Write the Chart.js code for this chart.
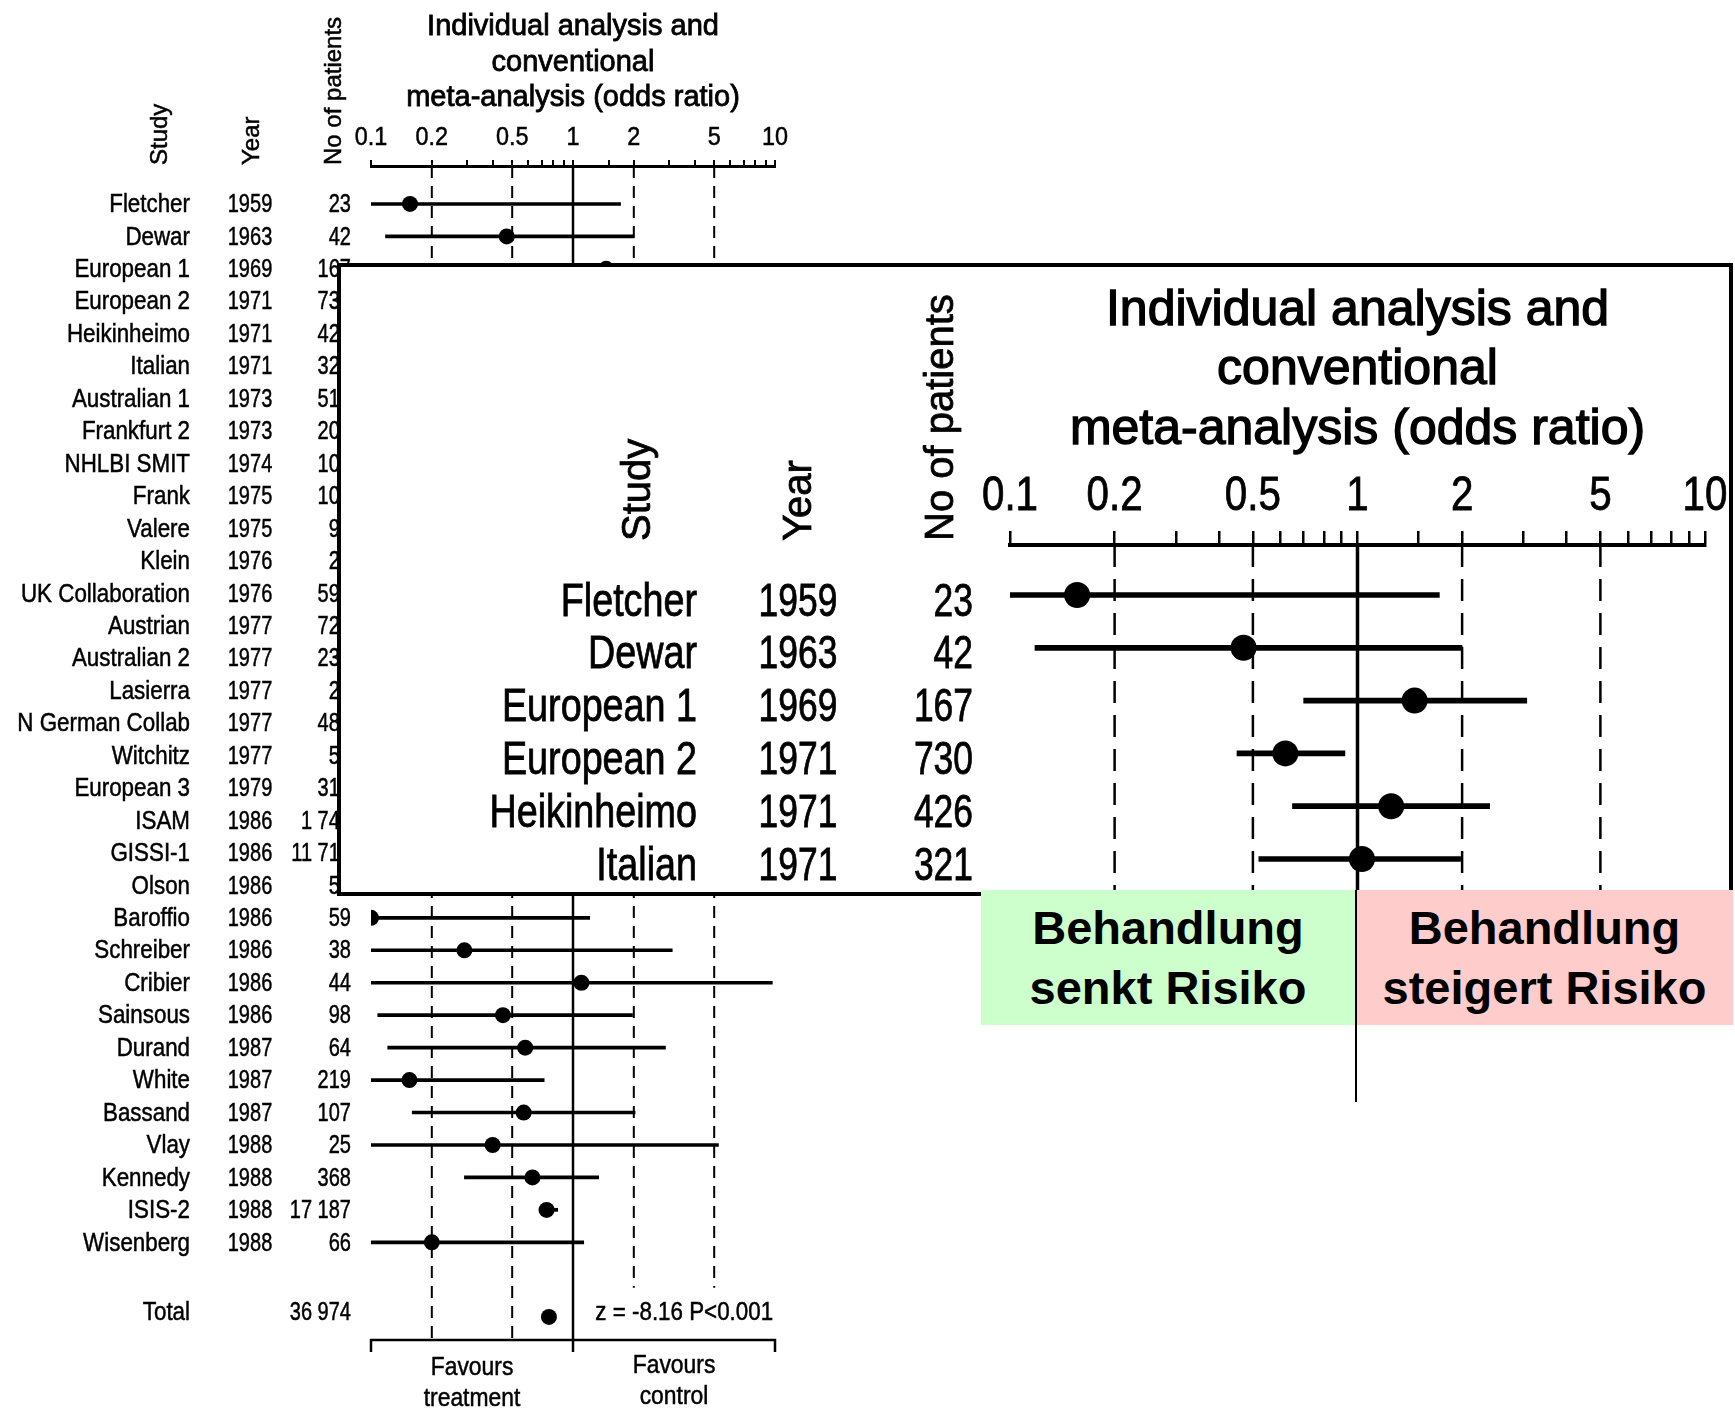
<!DOCTYPE html>
<html>
<head>
<meta charset="utf-8">
<script src="https://cdn.jsdelivr.net/npm/chart.js@4.4.1/dist/chart.umd.min.js"></script>
<style>
  html, body { margin: 0; padding: 0; background: #fff; }
  body { width: 1735px; height: 1412px; position: relative; overflow: hidden; }
  #main { position: absolute; left: 0; top: 0; }
  #insetBox { position: absolute; left: 337px; top: 263px; width: 1396px; height: 633px;
    box-sizing: border-box; border: 4px solid #000; background: #fff; }
  #inset { display: block; }
  .box { position: absolute; top: 890px; height: 135px; display: flex; flex-direction: column;
    justify-content: center; align-items: center; color: #000;
    font: bold 47px 'Liberation Sans', Arial, sans-serif; line-height: 60px; }
  #good { left: 981px; width: 374px; background: #ccffcc; }
  #bad { left: 1356px; width: 377px; background: #ffcccc; }
  #divider { position: absolute; left: 1355px; top: 890px; width: 2px; height: 212px; background: #000; }
</style>
</head>
<body>
<canvas id="main" width="1735" height="1412"></canvas>
<div id="insetBox"><canvas id="inset" width="1388" height="625"></canvas></div>
<div class="box" id="good"><div>Behandlung</div><div>senkt Risiko</div></div>
<div class="box" id="bad"><div>Behandlung</div><div>steigert Risiko</div></div>
<div id="divider"></div>
<script>
const studies = ['Fletcher', 'Dewar', 'European 1', 'European 2', 'Heikinheimo', 'Italian',
  'Australian 1', 'Frankfurt 2', 'NHLBI SMIT', 'Frank', 'Valere', 'Klein', 'UK Collaboration',
  'Austrian', 'Australian 2', 'Lasierra', 'N German Collab', 'Witchitz', 'European 3', 'ISAM',
  'GISSI-1', 'Olson', 'Baroffio', 'Schreiber', 'Cribier', 'Sainsous', 'Durand', 'White',
  'Bassand', 'Vlay', 'Kennedy', 'ISIS-2', 'Wisenberg']
const years = [1959, 1963, 1969, 1971, 1971, 1971, 1973, 1973, 1974, 1975, 1975, 1976, 1976,
  1977, 1977, 1977, 1977, 1977, 1979, 1986, 1986, 1986, 1986, 1986, 1986, 1986, 1987, 1987,
  1987, 1988, 1988, 1988, 1988]
const patients = [23, 42, 167, 730, 426, 321, 517, 206, 107, 108, 91, 23, 595, 728, 230, 24,
  483, 58, 315, 1741, 11712, 52, 59, 38, 44, 98, 64, 219, 107, 25, 368, 17187, 66]
const oddsRatio = [0.156, 0.47, 1.46, 0.62, 1.25, 1.03, 0.77, 0.43, 2.6, 1.0, 1.3, 2.9, 0.95,
  0.6, 0.67, 0.3, 1.2, 0.9, 0.5, 0.86, 0.81, 0.6, 0.1, 0.29, 1.1, 0.45, 0.58, 0.155, 0.57,
  0.4, 0.63, 0.74, 0.2]
const ciLow = [0.1, 0.118, 0.7, 0.45, 0.65, 0.52, 0.52, 0.23, 0.9, 0.4, 0.5, 0.3, 0.65, 0.42,
  0.38, 0.1, 0.85, 0.2, 0.3, 0.65, 0.72, 0.15, 0.1, 0.1, 0.1, 0.108, 0.121, 0.1, 0.16, 0.1,
  0.29, 0.68, 0.1]
const ciHigh = [1.72, 2.0, 3.07, 0.92, 2.4, 1.98, 1.15, 0.8, 7.6, 2.6, 3.4, 10, 1.4, 0.86,
  1.2, 1.9, 1.7, 4.0, 0.8, 1.15, 0.9, 2.5, 1.21, 3.1, 9.7, 1.97, 2.87, 0.72, 2.03, 5.25,
  1.34, 0.84, 1.13]
const totalLabel = 'Total'
const totalPatients = 36974
const totalOR = 0.76
const zText = 'z = -8.16 P<0.001'
const tickLabels = [0.1, 0.2, 0.5, 1, 2, 5, 10]
const refLines = [0.2, 0.5, 2, 5]
const headerLabels = ['Study', 'Year', 'No of patients']
const titleLines = ['Individual analysis and', 'conventional', 'meta-analysis (odds ratio)']
const favoursLeft = ['Favours', 'treatment']
const favoursRight = ['Favours', 'control']

const SANS = "'Liberation Sans', Arial, sans-serif"
const totalRow = 34.3

function fmtN(n) {
  return String(n).replace(/\B(?=(\d{3})+(?!\d))/g, ' ')
}
function isLabelled(v) {
  return tickLabels.some((t) => Math.abs(t - v) < 1e-9)
}
// squeezed text, stands in for the narrow face of the scan
function narrow(ctx, text, x, y, align, sx, stroke) {
  ctx.save()
  ctx.translate(x, y)
  ctx.scale(sx, 1)
  ctx.textAlign = align
  ctx.fillText(text, 0, 0)
  if (stroke) {
    ctx.lineWidth = stroke
    ctx.strokeText(text, 0, 0)
  }
  ctx.restore()
}

function forestPlugin(o) {
  return {
    id: 'forestText',
    beforeDatasetsDraw(chart) {
      const { ctx, chartArea: a, scales: { x, y } } = chart
      ctx.save()
      ctx.strokeStyle = '#000'
      ctx.lineWidth = o.dashW
      ctx.setLineDash(o.dash)
      refLines.forEach((v) => {
        const px = x.getPixelForValue(v)
        const end = v > 1 && o.rightEnd != null ? y.getPixelForValue(o.rightEnd) : a.bottom
        ctx.beginPath()
        ctx.moveTo(px, a.top)
        ctx.lineTo(px, end)
        ctx.stroke()
      })
      ctx.setLineDash([])
      ctx.lineWidth = o.oneW
      const p1 = x.getPixelForValue(1)
      ctx.beginPath()
      ctx.moveTo(p1, a.top)
      ctx.lineTo(p1, a.bottom + o.oneExtra)
      ctx.stroke()
      ctx.restore()
    },
    afterDraw(chart) {
      const { ctx, chartArea: a, scales: { x, y } } = chart
      const sw = o.textStroke
      ctx.save()
      ctx.fillStyle = '#000'
      ctx.strokeStyle = '#000'
      ctx.textBaseline = 'middle'
      // tick labels of the odds ratio axis
      ctx.font = o.tickFont + 'px ' + SANS
      x.ticks.forEach((t) => {
        if (isLabelled(t.value)) narrow(ctx, String(t.value), x.getPixelForValue(t.value), a.top - o.tickLift, 'center', o.tickSx, sw)
      })
      // table columns
      ctx.font = o.rowFont + 'px ' + SANS
      for (let i = 0; i < o.rows; i++) {
        const py = y.getPixelForValue(i) + o.textDy
        narrow(ctx, studies[i], o.nameX, py, 'right', o.nameSx, sw)
        narrow(ctx, fmtN(patients[i]), o.nX, py, 'right', o.numSx, sw)
        narrow(ctx, String(years[i]), o.yearX, py, 'center', o.numSx, sw)
      }
      // rotated column headers
      ctx.font = o.headFont + 'px ' + SANS
      headerLabels.forEach((label, k) => {
        ctx.save()
        ctx.translate(o.headX[k], o.headBase)
        ctx.rotate(-Math.PI / 2)
        ctx.textAlign = 'left'
        ctx.fillText(label, 0, 0)
        ctx.lineWidth = sw
        ctx.strokeText(label, 0, 0)
        ctx.restore()
      })
      // title
      ctx.font = o.titleFont + 'px ' + SANS
      ctx.textAlign = 'center'
      ctx.lineWidth = o.titleStroke
      const cx = (a.left + a.right) / 2
      titleLines.forEach((line, k) => {
        ctx.fillText(line, cx, o.titleY[k])
        ctx.strokeText(line, cx, o.titleY[k])
      })

      if (o.total) {
        const ty = y.getPixelForValue(totalRow) - 4
        ctx.font = o.rowFont + 'px ' + SANS
        narrow(ctx, totalLabel, o.nameX, ty, 'right', o.nameSx, sw)
        narrow(ctx, fmtN(totalPatients), o.nX, ty, 'right', o.numSx, sw)
        narrow(ctx, zText, x.getPixelForValue(1.29), ty, 'left', 0.86, sw)
        // bracket under the plot
        const xl = x.getPixelForValue(x.min)
        const xr = x.getPixelForValue(x.max)
        ctx.lineWidth = 2.5
        ctx.beginPath()
        ctx.moveTo(xl, a.bottom + 12)
        ctx.lineTo(xl, a.bottom)
        ctx.lineTo(xr, a.bottom)
        ctx.lineTo(xr, a.bottom + 12)
        ctx.stroke()
        const fl = x.getPixelForValue(Math.sqrt(x.min))
        const fr = x.getPixelForValue(Math.sqrt(x.max))
        favoursLeft.forEach((t, k) => narrow(ctx, t, fl, a.bottom + 28 + k * 31, 'center', 0.88, sw))
        favoursRight.forEach((t, k) => narrow(ctx, t, fr, a.bottom + 26 + k * 31, 'center', 0.88, sw))
      }
      ctx.restore()
    },
  }
}

function makeForest(canvasId, o) {
  const bars = []
  const points = []
  for (let i = 0; i < o.rows; i++) {
    bars.push({ x: [ciLow[i], ciHigh[i]], y: i })
    points.push({ x: oddsRatio[i], y: i })
  }
  if (o.total) points.push({ x: totalOR, y: totalRow })
  return new Chart(document.getElementById(canvasId), {
    type: 'bar',
    data: {
      datasets: [
        { type: 'bar', data: bars, backgroundColor: '#000', borderWidth: 0, barThickness: o.lineW, order: 2 },
        { type: 'scatter', indexAxis: 'x', data: points, pointRadius: o.dot, backgroundColor: '#000', borderWidth: 0, order: 1 },
      ],
    },
    options: {
      indexAxis: 'y',
      responsive: false,
      animation: false,
      events: [],
      layout: { padding: o.padding, autoPadding: false },
      plugins: { legend: { display: false }, tooltip: { enabled: false } },
      scales: {
        x: {
          type: 'logarithmic',
          position: 'top',
          min: 0.1,
          max: 10,
          offset: false,
          afterFit: (s) => { s.height = o.axisH },
          border: { display: true, color: '#000', width: o.axisW },
          grid: { drawOnChartArea: false, drawTicks: true, tickLength: o.tickLen, color: '#000', lineWidth: o.tickW },
          ticks: { autoSkip: false, maxRotation: 0, callback: () => '' },
        },
        y: { type: 'linear', display: false, reverse: true, min: o.yMin, max: o.yMax, offset: false },
      },
    },
    plugins: [forestPlugin(o)],
  })
}

// full forest plot
makeForest('main', {
  rows: studies.length, total: true,
  padding: { left: 371, right: 960, top: 120, bottom: 72 },
  axisH: 46, axisW: 3, tickLen: 6, tickW: 2, tickFont: 26, tickSx: 0.9, tickLift: 28,
  yMin: -1.17, yMax: 35.01, lineW: 3, dot: 8,
  nameX: 190, yearX: 250, nX: 351, rowFont: 26, nameSx: 0.86, numSx: 0.77, textDy: 1, textStroke: 0.5,
  headX: [160, 252, 334], headBase: 165, headFont: 24,
  titleY: [27, 63, 98], titleFont: 29, titleStroke: 0.8,
  dash: [12, 8], dashW: 2, rightEnd: 33.4, oneW: 2.5, oneExtra: 12,
})

// zoomed inset of the first six trials
makeForest('inset', {
  rows: 6, total: false,
  padding: { left: 669, right: 24, top: 208, bottom: 0 },
  axisH: 70, axisW: 4, tickLen: 14, tickW: 2.5, tickFont: 48, tickSx: 0.84, tickLift: 48,
  yMin: -0.947, yMax: 5.625, lineW: 5, dot: 13,
  nameX: 356, yearX: 457, nX: 632, rowFont: 46, nameSx: 0.82, numSx: 0.77, textDy: 8, textStroke: 0.8,
  headX: [298, 459, 601], headBase: 274, headFont: 40,
  titleY: [44, 103, 163], titleFont: 50, titleStroke: 1.4,
  dash: [22, 12], dashW: 2.5, rightEnd: null, oneW: 3.5, oneExtra: 0,
})
</script>
</body>
</html>
